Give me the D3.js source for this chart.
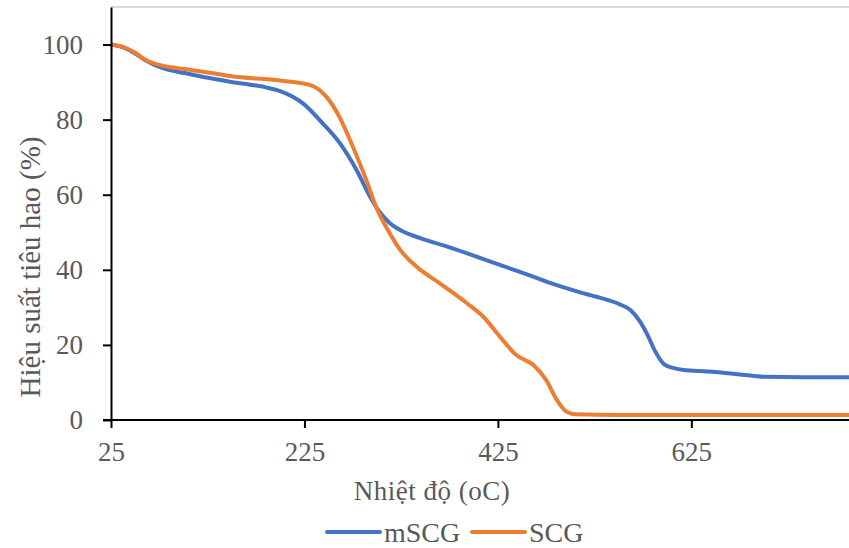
<!DOCTYPE html>
<html>
<head>
<meta charset="utf-8">
<script src="https://cdn.jsdelivr.net/npm/d3@7"></script>
<style>
  body { margin: 0; background: #fff; }
  text { font-family: "Liberation Serif", "Times New Roman", serif; fill: #595959; }
</style>
</head>
<body>
<svg id="chart" width="849" height="548"></svg>
<script>
// Temperatures (oC) and residual mass (%)
const mscgTemp = [25, 39, 50, 60, 81, 101, 132, 148, 169, 185, 200, 212, 225, 241, 262, 279, 293, 301, 313, 324, 344, 375, 400, 427, 455, 479, 510, 530, 551, 562, 572, 580, 587, 597, 607, 617, 642, 673, 701, 740, 788];
const mscgMass = [100, 99.1, 97.6, 95.9, 93.5, 92.4, 90.8, 90.1, 89.3, 88.6, 87.6, 86.2, 84.0, 79.8, 73.6, 66.5, 59.4, 56, 52.5, 50.6, 48.5, 46, 43.8, 41.3, 38.8, 36.5, 34, 32.6, 30.8, 29.3, 26.2, 22.5, 18.6, 14.8, 13.8, 13.3, 12.9, 12.2, 11.5, 11.4, 11.4];

const scgTemp = [25, 39, 50, 60, 81, 101, 132, 148, 200, 231, 248, 261, 275, 289, 299, 313, 324, 341, 365, 393, 410, 427, 444, 462, 475, 486, 496, 506, 550, 650, 788];
const scgMass = [100, 99.2, 97.8, 96.0, 94.2, 93.5, 92.3, 91.6, 90.4, 89.2, 86, 80.8, 72.8, 63.9, 56.8, 49.8, 45.3, 40.8, 36.4, 31.1, 27.5, 22.2, 17.3, 14.6, 10.6, 5.3, 2.2, 1.5, 1.3, 1.3, 1.3];

const xTicks = [25, 225, 425, 625];
const yTicks = [0, 20, 40, 60, 80, 100];

const series = [
  { name: "mSCG", color: "#4472C4", temp: mscgTemp, mass: mscgMass },
  { name: "SCG", color: "#ED7D31", temp: scgTemp, mass: scgMass }
];

const svg = d3.select("#chart");
const margin = { left: 111, right: 0, top: 7, bottom: 128 };
const width = 849 - margin.left - margin.right;
const height = 548 - margin.top - margin.bottom;

const x = d3.scaleLinear().domain([25, 788]).range([0, width]);
const y = d3.scaleLinear().domain([0, 110]).range([height, 0]);

const g = svg.append("g").attr("transform", `translate(${margin.left},${margin.top})`);

// top border of the plot area
g.append("line")
  .attr("x1", 0).attr("x2", width)
  .attr("y1", 0).attr("y2", 0)
  .attr("stroke", "#d9d9d9")
  .attr("stroke-width", 2);

const line = d3.line()
  .x((d) => x(d[0]))
  .y((d) => y(d[1]))
  .curve(d3.curveMonotoneX);

series.forEach((s) => {
  g.append("path")
    .datum(s.temp.map((t, i) => [t, s.mass[i]]))
    .attr("fill", "none")
    .attr("stroke", s.color)
    .attr("stroke-width", 4)
    .attr("stroke-linejoin", "round")
    .attr("d", line);
});

// Axes
const xAxis = g.append("g")
  .attr("transform", `translate(0,${height})`)
  .call(d3.axisBottom(x).tickValues(xTicks).tickSize(8).tickPadding(14).tickSizeOuter(0));

const yAxis = g.append("g")
  .call(d3.axisLeft(y).tickValues(yTicks).tickSize(8).tickPadding(20).tickSizeOuter(0));

[xAxis, yAxis].forEach((ax) => {
  ax.select(".domain").attr("stroke", "#000").attr("stroke-width", 2);
  ax.selectAll(".tick line").attr("stroke", "#000").attr("stroke-width", 2);
  ax.selectAll(".tick text")
    .attr("fill", "#595959")
    .style("font-family", '"Liberation Serif", serif')
    .style("font-size", "27px");
});
// x axis line reaches the 0 tick on the left
xAxis.select(".domain").attr("d", `M-8,0H${width}`);

// Axis titles
svg.append("text")
  .attr("x", 432)
  .attr("y", 500)
  .attr("text-anchor", "middle")
  .style("font-size", "27px")
  .style("letter-spacing", "0.5px")
  .text("Nhiệt độ (oC)");

svg.append("text")
  .attr("transform", "translate(40,267) rotate(-90)")
  .attr("text-anchor", "middle")
  .style("font-size", "29px")
  .text("Hiệu suất tiêu hao (%)");

// Legend
const legend = svg.append("g").attr("transform", "translate(0,532)");
const legendPos = [327, 472];
series.forEach((s, i) => {
  const lx = legendPos[i];
  legend.append("line")
    .attr("x1", lx).attr("x2", lx + 53)
    .attr("y1", 0).attr("y2", 0)
    .attr("stroke", s.color)
    .attr("stroke-width", 4)
    .attr("stroke-linecap", "round");
  legend.append("text")
    .attr("x", lx + 57)
    .attr("y", 10)
    .style("font-size", "28px")
    .text(s.name);
});
</script>
</body>
</html>
